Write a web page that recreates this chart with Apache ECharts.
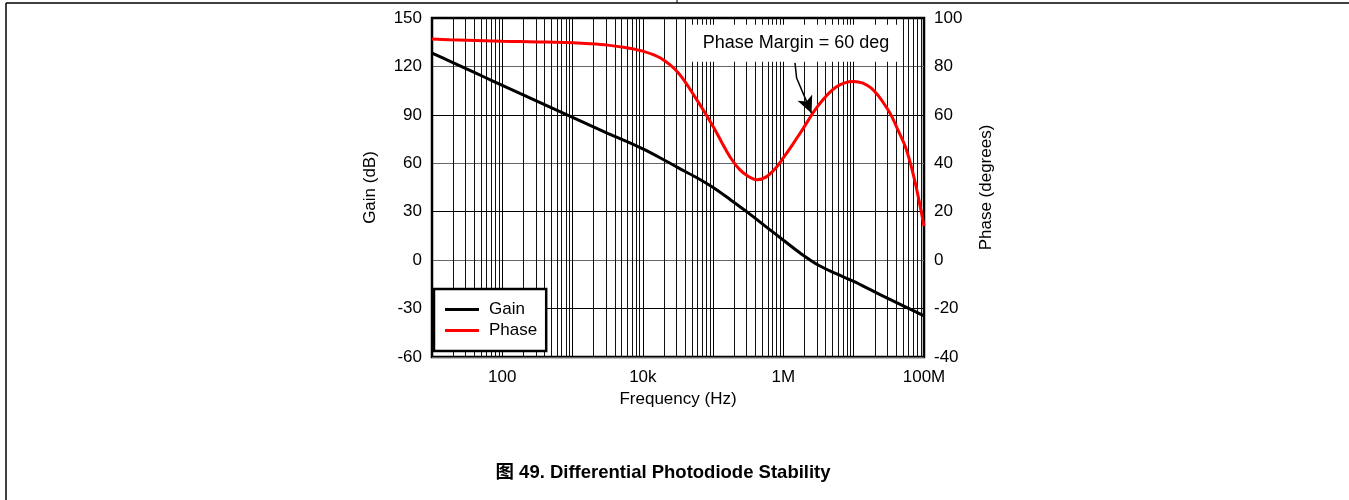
<!DOCTYPE html>
<html>
<head>
<meta charset="utf-8">
<script src="https://cdn.jsdelivr.net/npm/echarts@6/dist/echarts.min.js"></script>
<style>
html, body { margin: 0; padding: 0; background: #fff; }
#chart { width: 1349px; height: 500px; }
</style>
</head>
<body>
<div id="chart"></div>
<script>
// x tick labels (only every other decade is labelled)
const xTickLabels = { 100: "100", 10000: "10k", 1000000: "1M", 100000000: "100M" };

// gain curve: frequency (Hz) and gain (dB), a quarter decade apart
const gainFreq = [10, 17.8, 31.6, 56.2, 100, 178, 316, 562, 1000, 1778, 3162, 5623, 10000, 17780, 31620, 56230, 100000, 177800, 316200, 562300, 1000000, 1778000, 3162000, 5623000, 10000000, 17780000, 31620000, 56230000, 100000000];
const gainDb = [128.3, 123.3, 118.3, 113.3, 108.3, 103.3, 98.4, 93.4, 88.5, 83.5, 78.6, 73.9, 68.9, 63.3, 57.3, 51.5, 45, 37.3, 29.3, 20.8, 12.3, 4.0, -3.2, -8.4, -13.2, -18.6, -24, -29.2, -34.5];

// phase curve: frequency (Hz) and phase (degrees), denser where it bends
const phaseFreq = [10, 17.8, 31.6, 56.2, 100, 178, 316, 562, 1000, 1778, 3162, 5623, 10000, 17780, 31620, 56230, 100000, 133400, 177800, 237100, 316200, 421700, 562300, 749900, 1000000, 1334000, 1778000, 3162000, 5623000, 10000000, 17780000, 31620000, 42170000, 56230000, 74990000, 100000000];
const phaseDeg = [91.3, 91.0, 90.8, 90.6, 90.4, 90.25, 90.1, 90.0, 89.8, 89.4, 88.8, 87.8, 86.3, 83.5, 77.5, 67, 55.2, 48.5, 42.2, 37.5, 34.6, 33.2, 34.3, 37.5, 42.3, 47.5, 53, 64, 71.5, 73.8, 71, 61.5, 54, 45.6, 32, 14];

const annotationText = "Phase Margin = 60 deg";
const titleText = "图 49. Differential Photodiode Stability";

// minor log grid lines 2..9 in every decade
const minorFreq = [];
for (let d = 10; d < 1e8; d *= 10) {
  for (let m = 2; m <= 9; m++) minorFreq.push(m * d);
}

const fontFam = "'Liberation Sans', Arial, 'Noto Sans CJK SC', sans-serif";

const chart = echarts.init(document.getElementById("chart"));
const option = {
  animation: false,
  textStyle: { fontFamily: fontFam, color: "#000" },
  grid: {
    left: 432,
    right: 425,
    top: 18,
    bottom: 143,
    show: true,
    borderColor: "#000",
    borderWidth: 2.5,
  },
  legend: {
    orient: "vertical",
    left: 434,
    top: 289,
    backgroundColor: "#fff",
    borderColor: "#000",
    borderWidth: 2.5,
    padding: [12, 9, 12, 11],
    icon: "rect",
    itemWidth: 34,
    itemHeight: 3,
    itemGap: 4,
    textStyle: { fontSize: 17, color: "#000", fontFamily: fontFam, padding: [0, 0, 0, 5] },
    data: ["Gain", "Phase"],
  },
  xAxis: {
    type: "log",
    logBase: 10,
    min: 10,
    max: 100000000,
    axisLine: { show: false },
    axisTick: { show: false },
    splitLine: { show: true, lineStyle: { color: "#000", width: 1 } },
    axisLabel: {
      fontSize: 17,
      color: "#000",
      margin: 12,
      formatter: (v) => xTickLabels[Math.round(v)] || "",
    },
    name: "Frequency (Hz)",
    nameLocation: "middle",
    nameGap: 31,
    nameTextStyle: { fontSize: 17, color: "#000" },
  },
  yAxis: [
    {
      type: "value",
      min: -60,
      max: 150,
      interval: 30,
      axisLine: { show: false },
      axisTick: { show: false },
      splitLine: { show: true, lineStyle: { color: ["#666", "#000"], width: 1 } },
      axisLabel: { fontSize: 17, color: "#000", margin: 10 },
      name: "Gain (dB)",
      nameLocation: "middle",
      nameGap: 53,
      nameTextStyle: { fontSize: 17, color: "#000" },
    },
    {
      type: "value",
      position: "right",
      min: -40,
      max: 100,
      interval: 20,
      axisLine: { show: false },
      axisTick: { show: false },
      splitLine: { show: false },
      axisLabel: { fontSize: 17, color: "#000", margin: 10 },
      name: "Phase (degrees)",
      nameLocation: "middle",
      nameGap: 54,
      nameTextStyle: { fontSize: 17, color: "#000" },
    },
  ],
  graphic: [
    { type: "line", shape: { x1: 6, y1: 3, x2: 1349, y2: 3 }, style: { stroke: "#000", lineWidth: 1.5 } },
    { type: "line", shape: { x1: 6, y1: 3, x2: 6, y2: 500 }, style: { stroke: "#000", lineWidth: 1.5 } },
    { type: "line", shape: { x1: 677, y1: 0, x2: 677, y2: 3 }, style: { stroke: "#000", lineWidth: 1 } },
    {
      type: "text",
      x: 663,
      y: 473,
      style: {
        text: titleText,
        font: "bold 18.5px " + fontFam,
        fill: "#000",
        textAlign: "center",
        textVerticalAlign: "middle",
      },
    },
  ],
  series: [
    {
      name: "Gain",
      type: "line",
      yAxisIndex: 0,
      symbol: "none",
      smooth: 0.35,
      z: 3,
      lineStyle: { color: "#000", width: 3 },
      itemStyle: { color: "#000" },
      data: gainFreq.map((f, i) => [f, gainDb[i]]),
      markLine: {
        silent: true,
        z: 1,
        symbol: "none",
        label: { show: false },
        lineStyle: { color: "#111", width: 1, type: "solid" },
        data: minorFreq.map((f) => ({ xAxis: f })),
      },
    },
    {
      name: "Phase",
      type: "line",
      yAxisIndex: 1,
      symbol: "none",
      smooth: 0.35,
      z: 3,
      lineStyle: { color: "#ff0000", width: 3 },
      itemStyle: { color: "#ff0000" },
      data: phaseFreq.map((f, i) => [f, phaseDeg[i]]),
      markPoint: {
        silent: true,
        symbol: "rect",
        symbolSize: [212, 37],
        itemStyle: { color: "#fff" },
        label: {
          show: true,
          position: "inside",
          formatter: annotationText,
          color: "#000",
          fontSize: 18,
          fontFamily: fontFam,
        },
        data: [{ coord: [1510000, 89.6] }],
      },
      markLine: {
        silent: true,
        symbol: "none",
        label: { show: false },
        lineStyle: { color: "#000", width: 1.5, type: "solid" },
        data: [
          [{ coord: [1460000, 81.5] }, { coord: [1540000, 75.2] }],
          [
            { coord: [1540000, 75.2], symbol: "none" },
            { coord: [2510000, 60.7], symbol: "arrow", symbolSize: [12, 17] },
          ],
        ],
      },
    },
  ],
};
chart.setOption(option);
</script>
</body>
</html>
